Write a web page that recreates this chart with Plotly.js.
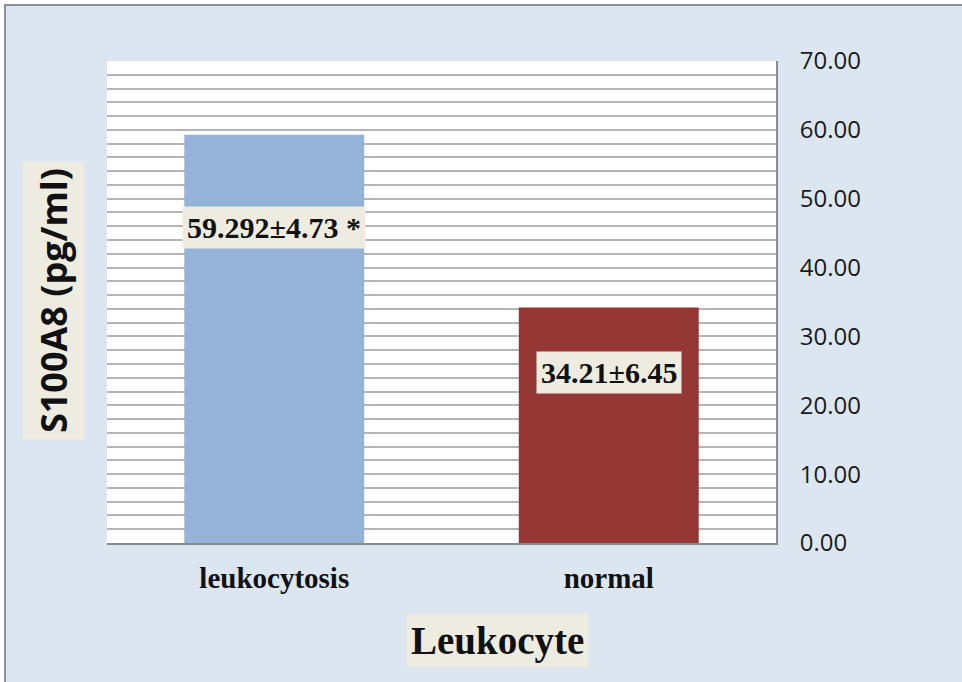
<!DOCTYPE html>
<html>
<head>
<meta charset="utf-8">
<script src="https://cdn.plot.ly/plotly-3.0.1.min.js"></script>
<style>
  html, body { margin: 0; padding: 0; background: #ffffff; }
  #wrap { position: absolute; left: 4px; top: 4px; width: 958px; height: 678px;
          border-left: 2px solid #8f8f8f; border-top: 2px solid #8f8f8f; }
  #chart { width: 956px; height: 676px; }
</style>
</head>
<body>
<div id="wrap"><div id="chart"></div></div>
<script>
// Data
var categories = ["leukocytosis", "normal"];
var values = [59.292, 34.21];
var valueLabels = ["59.292±4.73 *", "34.21±6.45"];
var barColors = ["#95b3d7", "#953735"];
var labelY = [45.8, 24.8];

var yTitle = "S100A8 (pg/ml)";
var xTitle = "Leukocyte";

var trace = {
  type: "bar",
  x: categories,
  y: values,
  marker: { color: barColors, line: { width: 0 } },
  hoverinfo: "skip"
};

var serif = "'Liberation Serif', 'DejaVu Serif', serif";

var annotations = categories.map(function (c, i) {
  return {
    xref: "x", yref: "y", x: c, y: labelY[i],
    xanchor: "center", yanchor: "middle",
    text: valueLabels[i], showarrow: false,
    font: { family: serif, size: 30, color: "#111111", weight: "bold" },
    bgcolor: "#eeece1", borderpad: 4
  };
});
annotations.push({
  xref: "paper", yref: "paper", x: -0.0807, y: 0.502,
  xanchor: "center", yanchor: "middle",
  text: yTitle, showarrow: false, textangle: -90,
  font: { family: "'Open Sans', sans-serif", size: 36, color: "#111111", weight: "bold" },
  bgcolor: "#eeece1", borderpad: 6
});
annotations.push({
  xref: "paper", yref: "paper", x: 0.583, y: -0.203,
  xanchor: "center", yanchor: "middle",
  text: xTitle, showarrow: false,
  font: { family: serif, size: 39, color: "#111111", weight: "bold" },
  bgcolor: "#eeece1", borderpad: 4
});

var layout = {
  width: 956, height: 676,
  margin: { l: 101, r: 186, t: 55, b: 139 },
  paper_bgcolor: "#dce6f1",
  plot_bgcolor: "#ffffff",
  showlegend: false,
  bargap: 0.462,
  xaxis: {
    type: "category",
    showline: true, linecolor: "#8a8a8a", linewidth: 2,
    showgrid: false, ticks: "",
    ticklabelstandoff: 8,
    tickfont: { family: serif, size: 29, color: "#111111", weight: "bold" }
  },
  yaxis: {
    side: "right",
    range: [0, 70], dtick: 10, tick0: 0,
    tickformat: ".2f",
    showline: true, linecolor: "#8a8a8a", linewidth: 2,
    showgrid: true, gridcolor: "#b5b5b5", gridwidth: 2,
    zeroline: false, ticks: "",
    ticklabelstandoff: 17,
    tickfont: { family: "'Open Sans', sans-serif", size: 24, color: "#1a1a1a" },
    minor: { dtick: 2, showgrid: true, gridcolor: "#b5b5b5", gridwidth: 2 }
  },
  annotations: annotations
};

Plotly.newPlot("chart", [trace], layout, { displayModeBar: false, staticPlot: true });
</script>
</body>
</html>
